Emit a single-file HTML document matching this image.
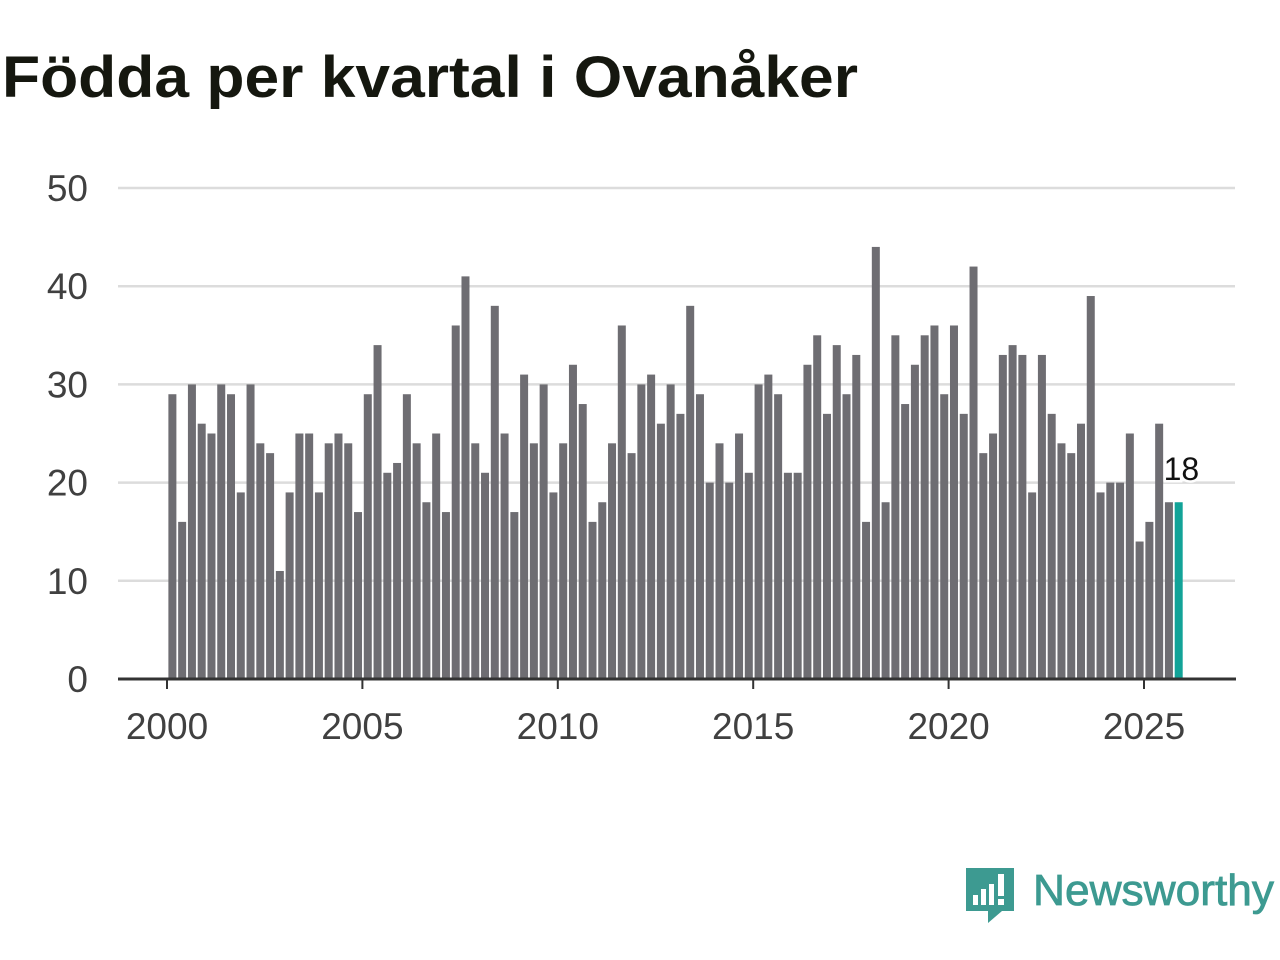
<!DOCTYPE html>
<html><head><meta charset="utf-8"><style>
html,body{margin:0;padding:0;background:#fff;width:1280px;height:960px;overflow:hidden;font-family:"Liberation Sans",sans-serif;}
</style></head><body>
<svg id="chart" width="1280" height="960" xmlns="http://www.w3.org/2000/svg">
<text x="2" y="97" font-family="Liberation Sans, sans-serif" font-weight="bold" font-size="58" textLength="856" lengthAdjust="spacingAndGlyphs" fill="#15170f">Födda per kvartal i Ovanåker</text>
<g id="grid"></g><g id="bars"></g><g id="axes"></g>
<g>
<path d="M966 868 h48 v43 h-12 l-14 12 v-12 h-22 z" fill="#3d9a91"/>
<rect x="973" y="895" width="5" height="10" fill="#fff"/>
<rect x="981" y="889" width="5" height="16" fill="#fff"/>
<rect x="989" y="884" width="5" height="21" fill="#fff"/>
<rect x="998" y="874" width="6" height="22" fill="#fff"/>
<rect x="998" y="899" width="6" height="6" fill="#fff"/>
<text x="1033" y="905" font-family="Liberation Sans, sans-serif" font-size="44" textLength="241" lengthAdjust="spacingAndGlyphs" fill="#3d9a91" stroke="#3d9a91" stroke-width="0.8">Newsworthy</text>
</g>
</svg>
<script>
const yearTicks = [2000, 2005, 2010, 2015, 2020, 2025];
const yTicks = [0, 10, 20, 30, 40, 50];
const startYear = 2000;
const births = [29,16,30,26,25,30,29,19,30,24,23,11,19,25,25,19,24,25,24,17,29,34,21,22,29,24,18,25,17,36,41,24,21,38,25,17,31,24,30,19,24,32,28,16,18,24,36,23,30,31,26,30,27,38,29,20,24,20,25,21,30,31,29,21,21,32,35,27,34,29,33,16,44,18,35,28,32,35,36,29,36,27,42,23,25,33,34,33,19,33,27,24,23,26,39,19,20,20,25,14,16,26,18,18];
const NS="http://www.w3.org/2000/svg";
const x0=167, pxYear=39.08, y0=679, pxUnit=9.82;
const xs=t=>x0+(t-2000)*pxYear;
const ys=v=>y0-v*pxUnit;
function mk(tag,attrs,parent){const e=document.createElementNS(NS,tag);for(const k in attrs)e.setAttribute(k,attrs[k]);parent.appendChild(e);return e;}
const grid=document.getElementById('grid'),bars=document.getElementById('bars'),axes=document.getElementById('axes');
yTicks.forEach(v=>{
  if(v>0){const l=mk('line',{x1:118,x2:1235,y1:ys(v),y2:ys(v),stroke:'#dcdcdc','stroke-width':2.5},grid);
  
  }
  const t=mk('text',{x:88,y:ys(v)+13,'text-anchor':'end','font-size':37,fill:'#404040','font-family':'Liberation Sans, sans-serif'},axes);
  t.textContent=v;
  
  
});
births.forEach((v,i)=>{
  const t=startYear+(i+0.5)/4;
  const last=i===births.length-1;
  const r=mk('rect',{x:xs(t)-3.5,y:ys(v),width:8,height:v*pxUnit,fill:last?'#12a398':'#6e6d72'},bars);
  
  
  if(last){
    const lb=mk('text',{x:xs(t)+21,y:ys(v)-22,'text-anchor':'end','font-size':32,fill:'#111',stroke:'#fff','stroke-width':5,'paint-order':'stroke','font-family':'Liberation Sans, sans-serif'},bars);
    lb.textContent=v;
    
    
  }
});
const ax=mk('line',{x1:118,x2:1236,y1:y0,y2:y0,stroke:'#333','stroke-width':3},axes);


yearTicks.forEach(y=>{
  const tk=mk('line',{x1:xs(y),x2:xs(y),y1:y0,y2:y0+10,stroke:'#333','stroke-width':2},axes);
  
  
  const t=mk('text',{x:xs(y),y:739,'text-anchor':'middle','font-size':37,fill:'#404040','font-family':'Liberation Sans, sans-serif'},axes);
  t.textContent=y;
  
  
});
</script>
</body></html>
